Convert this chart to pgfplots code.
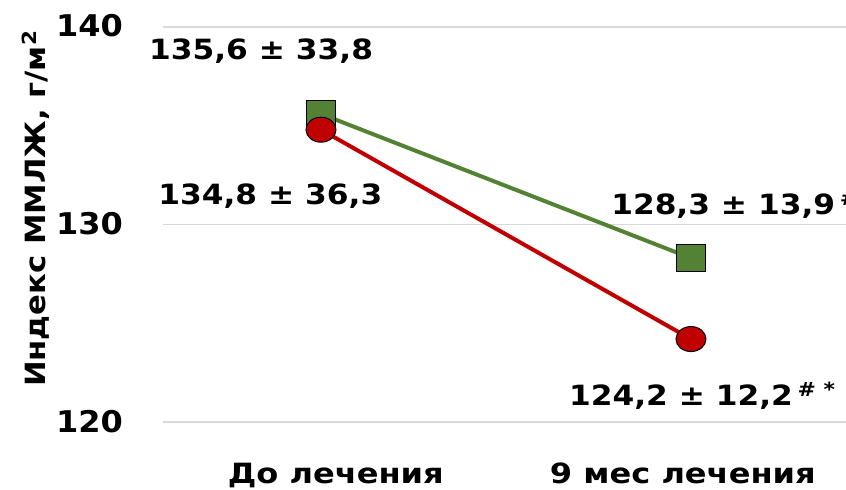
\documentclass[border=0pt]{standalone}
\usepackage{pgfplots}
\pgfplotsset{compat=1.18}
\usepackage{fontspec}
\setmainfont{DejaVu Sans}
\newfontfamily\annfont{DejaVu Sans}[FakeStretch=1.12]
\newfontfamily\xlabfont{DejaVu Sans}[FakeStretch=1.15]
\newfontfamily\ylabfont{DejaVu Sans}[FakeStretch=1.1]
\newfontfamily\tickfont{DejaVu Sans}[FakeStretch=1.07]
\usetikzlibrary{calc}
\definecolor{lvgreen}{HTML}{548235}
\definecolor{lvred}{HTML}{C00000}
\definecolor{gridgray}{HTML}{D9D9D9}
\begin{document}
\begin{tikzpicture}
\begin{axis}[
  scale only axis,
  width=683bp, height=395bp,
  xmin=-0.427, xmax=1.419,
  ymin=120, ymax=140,
  xtick={0.04,0.978},
  xticklabels={До лечения, 9 мес лечения},
  ytick={120,130,140},
  axis line style={draw=none},
  tick style={draw=none},
  major tick length=0pt,
  ymajorgrids,
  grid style={gridgray, line width=1.2bp},
  clip=false,
  font=\annfont\bfseries\fontsize{28}{32}\selectfont,
  /pgf/number format/assume math mode=true,
  yticklabel style={anchor=base east, inner sep=0pt, xshift=-40bp, yshift=-10bp,
    font=\tickfont\bfseries\fontsize{30}{32}\selectfont},
  xticklabel style={anchor=base, inner sep=0pt, yshift=-61bp,
    font=\xlabfont\bfseries\fontsize{28}{32}\selectfont},
  ylabel={Индекс ММЛЖ, г/м\textsuperscript{2}},
  ylabel style={at={(axis description cs:-0.187,0.54)}, anchor=center,
    font=\ylabfont\bfseries\fontsize{28}{32}\selectfont},
]
% group with green squares
\addplot[lvgreen, line width=4bp, mark=square*, mark size=13.5bp,
  mark options={fill=lvgreen, draw=black, line width=1bp, xscale=1.1}]
  coordinates {(0,135.6) (1,128.3)};
% group with red circles
\addplot[lvred, line width=4bp, mark=*, mark size=12.5bp,
  mark options={fill=lvred, draw=black, line width=1bp, xscale=1.2}]
  coordinates {(0,134.8) (1,124.2)};

\node[anchor=base west, inner sep=0pt] at (axis cs:-0.465,138.33) {135,6 ± 33,8};
\node[anchor=base west, inner sep=0pt] at (axis cs:-0.44,130.99) {134,8 ± 36,3};
\node[anchor=base west, inner sep=0pt] at (axis cs:0.784,130.53) {128,3 ± 13,9\,\textsuperscript{\#}};
\node[anchor=base west, inner sep=0pt] at (axis cs:0.670,120.86) {124,2 ± 12,2\,\textsuperscript{\# *}};

\coordinate (bl) at (rel axis cs:0,0);
\coordinate (tr) at (rel axis cs:1,1);
\end{axis}
\pgfresetboundingbox
\path ($(bl)+(-163bp,-68bp)$) rectangle ($(tr)+(0bp,27bp)$);
\end{tikzpicture}
\end{document}
